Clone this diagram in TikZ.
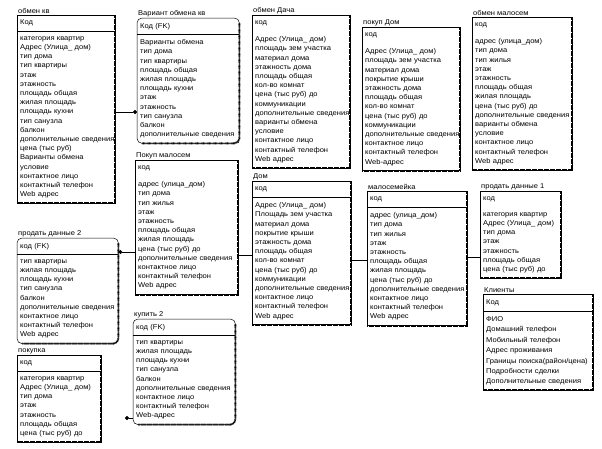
\documentclass[tikz,border=0pt]{standalone}
\usepackage{fontspec}
\setmainfont{Liberation Sans}[FakeStretch=1.08]
\usepackage{tikz}
\usetikzlibrary{arrows.meta, positioning}

\begin{document}
\begin{tikzpicture}[
  x=1pt, y=-1pt,
  ttl/.style={anchor=south west, inner sep=1pt, font=\fontsize{7}{9}\selectfont},
  keyrow/.style={anchor=north west, inner xsep=3pt, inner ysep=0pt,
                 minimum height=16pt, align=left, font=\fontsize{7}{9}\selectfont},
  attrs/.style={inner xsep=3pt, inner ysep=5pt, align=left,
                font=\fontsize{7}{9.2}\selectfont},
  frame/.style={draw, line width=0.5pt},
  shade/.style={line width=2pt, dash pattern=on 0.6pt off 0.6pt},
  rel/.style={-{Circle[length=4pt]}, line width=0.5pt},
  link/.style={line width=0.5pt},
]
\useasboundingbox (0,0) rectangle (602,448);

% --- Top row ---
\node[keyrow, text width=92pt] (obkv) at (17,15) {Код};
\node[attrs, text width=92pt, below=0pt of obkv] (obkv-a)
  {категория квартир\\Адрес (Улица\_ дом)\\тип дома\\тип квартиры\\этаж\\этажность\\
   площадь общая\\жилая площадь\\площадь кухни\\тип санузла\\балкон\\
   дополнительные~сведения\\цена (тыс руб)\\Варианты обмена\\условие\\
   контактное лицо\\контактный телефон\\Web адрес};
\node[ttl] (obkv-t) at (obkv.north west) {обмен кв};

\node[keyrow, text width=96pt] (var) at (137,18) {Код (FK)};
\node[attrs, text width=96pt, below=0pt of var] (var-a)
  {Варианты обмена\\тип дома\\тип квартиры\\площадь общая\\жилая площадь\\
   площадь кухни\\этаж\\этажность\\тип санузла\\балкон\\дополнительные~сведения};
\node[ttl] (var-t) at (var.north west) {Вариант обмена кв};

\node[keyrow, text width=92pt] (obdacha) at (252,15) {код};
\node[attrs, text width=92pt, below=0pt of obdacha] (obdacha-a)
  {Адрес (Улица\_ дом)\\площадь зем участка\\материал дома\\этажность дома\\
   площадь общая\\кол-во комнат\\цена (тыс руб) до\\коммуникации\\
   дополнительные~сведения\\варианты обмена\\условие\\контактное лицо\\
   контактный телефон\\Web адрес};
\node[ttl] (obdacha-t) at (obdacha.north west) {обмен Дача};

\node[keyrow, text width=92pt] (pokdom) at (362,27) {код};
\node[attrs, text width=92pt, below=0pt of pokdom] (pokdom-a)
  {Адрес (Улица\_ дом)\\площадь зем участка\\материал дома\\покрытие крыши\\
   этажность дома\\площадь общая\\кол-во комнат\\цена (тыс руб) до\\
   коммуникации\\дополнительные~сведения\\контактное лицо\\
   контактный телефон\\Web-адрес};
\node[ttl] (pokdom-t) at (pokdom.north west) {покуп Дом};

\node[keyrow, text width=94pt] (obmalo) at (472,17) {код};
\node[attrs, text width=94pt, below=0pt of obmalo] (obmalo-a)
  {адрес (улица\_дом)\\тип дома\\тип жилья\\этаж\\этажность\\площадь общая\\
   жилая площадь\\цена (тыс руб) до\\дополнительные~сведения\\
   варианты обмена\\условие\\контактное лицо\\контактный телефон\\Web адрес};
\node[ttl] (obmalo-t) at (obmalo.north west) {обмен малосем};

% --- Middle row ---
\node[keyrow, text width=97pt] (pokmalo) at (135,160) {код};
\node[attrs, text width=97pt, below=0pt of pokmalo] (pokmalo-a)
  {адрес (улица\_дом)\\тип дома\\тип жилья\\этаж\\этажность\\площадь общая\\
   жилая площадь\\цена (тыс руб) до\\дополнительные~сведения\\
   контактное лицо\\контактный телефон\\Web адрес};
\node[ttl] (pokmalo-t) at (pokmalo.north west) {Покуп малосем};

\node[keyrow, text width=93pt] (dom) at (252,181) {код};
\node[attrs, text width=93pt, below=0pt of dom] (dom-a)
  {Адрес (Улица\_ дом)\\Площадь зем участка\\материал дома\\покрытие крыши\\
   этажность дома\\площадь общая\\кол-во комнат\\цена (тыс руб) до\\
   коммуникации\\дополнительные~сведения\\контактное лицо\\
   контактный телефон\\Web адрес};
\node[ttl] (dom-t) at (dom.north west) {Дом};

\node[keyrow, text width=94pt] (malo) at (367,191) {код};
\node[attrs, text width=94pt, below=0pt of malo] (malo-a)
  {адрес (улица\_дом)\\тип дома\\тип жилья\\этаж\\этажность\\площадь общая\\
   жилая площадь\\цена (тыс руб) до\\дополнительные~сведения\\
   контактное лицо\\контактный телефон\\Web адрес};
\node[ttl] (malo-t) at (malo.north west) {малосемейка};

\node[keyrow, text width=75pt] (pd1) at (480,191) {код};
\node[attrs, text width=75pt, below=0pt of pd1] (pd1-a)
  {категория~квартир\\Адрес~(Улица\_~дом)\\тип дома\\этаж\\этажность\\
   площадь общая\\цена~(тыс~руб)~до};
\node[ttl] (pd1-t) at (pd1.north west) {продать данные 1};

\node[keyrow, text width=104pt, minimum height=17pt,
      font=\fontsize{7}{10}\selectfont] (klient) at (483,294) {Код};
\node[attrs, text width=104pt, below=0pt of klient,
      font=\fontsize{7}{10.4}\selectfont] (klient-a)
  {ФИО\\Домашний телефон\\Мобильный телефон\\Адрес проживания\\
   Границы~поиска(район/цена)\\Подробности сделки\\
   Дополнительные~сведения};
\node[ttl] (klient-t) at (klient.north west) {Клиенты};

% --- Left column and bottom ---
\node[keyrow, text width=95pt] (pd2) at (17,238) {код (FK)};
\node[attrs, text width=95pt, below=0pt of pd2] (pd2-a)
  {тип квартиры\\жилая площадь\\площадь кухни\\тип санузла\\балкон\\
   дополнительные~сведения\\контактное лицо\\контактный телефон\\Web адрес};
\node[ttl] (pd2-t) at (pd2.north west) {продать данные 2};

\node[keyrow, text width=78pt] (pok) at (17,355) {код};
\node[attrs, text width=78pt, below=0pt of pok] (pok-a)
  {категория~квартир\\Адрес~(Улица\_~дом)\\тип дома\\этаж\\этажность\\
   площадь общая\\цена~(тыс~руб)~до};
\node[ttl] (pok-t) at (pok.north west) {покупка};

\node[keyrow, text width=96pt] (kup2) at (133,319) {код (FK)};
\node[attrs, text width=96pt, below=0pt of kup2] (kup2-a)
  {тип квартиры\\жилая площадь\\площадь кухни\\тип санузла\\балкон\\
   дополнительные~сведения\\контактное лицо\\контактный телефон\\Web-адрес};
\node[ttl] (kup2-t) at (kup2.north west) {купить 2};

% --- Frames ---
\foreach \e in {obkv,obdacha,pokdom,obmalo,pokmalo,dom,malo,pd1,klient,pok} {
  \draw[frame] (\e.north west) rectangle (\e-a.south east);
  \draw[shade] (\e.north east) -- (\e-a.south east) -- (\e-a.south west);
}
\foreach \e in {var,pd2,kup2} {
  \draw[frame, rounded corners=5pt] (\e.north west) rectangle (\e-a.south east);
  \draw[shade, rounded corners=5pt] ([yshift=-5pt]\e.north east)
    -- (\e-a.south east) -- ([xshift=5pt]\e-a.south west);
}
\foreach \e in {obkv,var,dom,malo,klient,pd2,pok,kup2}
  \draw[frame] (\e.south west) -- (\e.south east);

% --- Relationships ---
\draw[rel] (obkv-a.east |- 0,112) -- (var-a.west |- 0,112);
\draw[rel] (pokmalo-a.west |- 0,252) -- (pd2-a.east |- 0,252);
\draw[link] (pokmalo-a.east |- 0,255) -- (dom-a.west |- 0,255);
\draw[link] (dom-a.east |- 0,260) -- (malo-a.west |- 0,260);
\draw[link] (malo-a.east |- 0,257) -- (pd1-a.west |- 0,257);
\coordinate (kup2-dot) at (125,418);
\draw[rel] (kup2-a.west |- kup2-dot) -- (kup2-dot);
\end{tikzpicture}
\end{document}
